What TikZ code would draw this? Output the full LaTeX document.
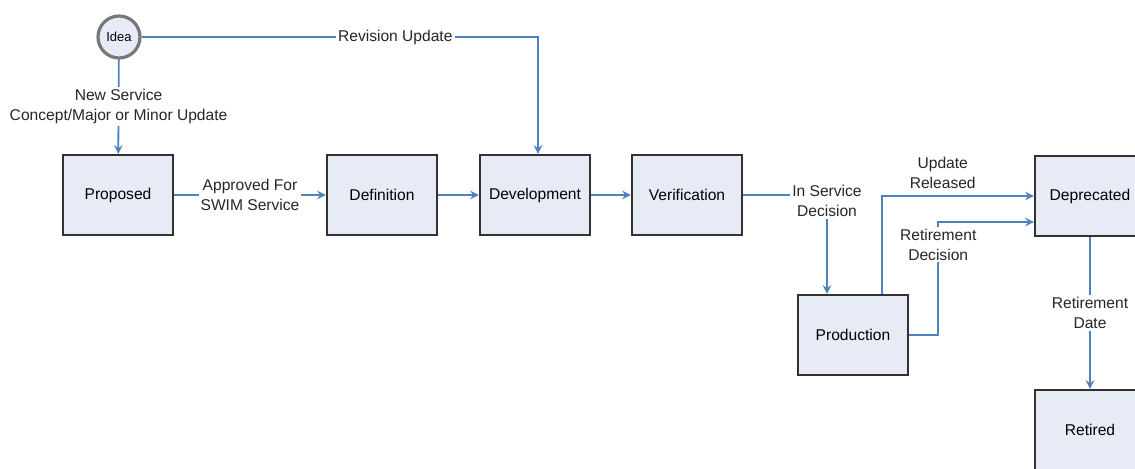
\documentclass[tikz,border=0pt]{standalone}
\usepackage{fontspec}
\setmainfont{Liberation Sans}
\usepackage{tikz}
\usetikzlibrary{arrows}
\definecolor{boxfill}{RGB}{230,235,246}
\definecolor{boxline}{RGB}{50,50,50}
\definecolor{flowblue}{RGB}{79,129,189}
\definecolor{ringgray}{RGB}{120,120,120}
\tikzset{
  stage/.style={draw=boxline,line width=1.2pt,fill=boxfill,minimum width=55pt,minimum height=40pt,inner sep=0pt},
  ideanode/.style={circle,draw=ringgray,line width=1.6pt,fill=boxfill,minimum size=21pt,inner sep=0pt,font=\fontsize{6.5}{7}\selectfont},
  flow/.style={->,>=stealth,draw=flowblue,line width=0.9pt},
  lbl/.style={fill=white,inner sep=1pt,align=center,text=black!85}
}

\begin{document}
\begin{tikzpicture}[x=0.5pt,y=-0.5pt,font=\fontsize{7.8}{10}\selectfont]
        \useasboundingbox (0,0) rectangle (1135,469);
        % states
        \node[ideanode] (idea) at (119,37) {Idea};
        \node[stage] (proposed) at (118,195) {Proposed};
        \node[stage] (definition) at (382,195) {Definition};
        \node[stage] (development) at (535,195) {Development};
        \node[stage] (verification) at (687,195) {Verification};
        \node[stage] (production) at (853,335) {Production};
        \node[stage] (deprecated) at (1090,196) {Deprecated};
        \node[stage] (retired) at (1090,430) {Retired};
        % transitions
        \draw[flow] (idea) -- node[lbl]{New Service\\Concept/Major or Minor Update} (proposed);
        \draw[flow] (idea.east) -| node[lbl,pos=0.32]{Revision Update} ([xshift=1.5pt]development.north);
        \draw[flow] (proposed) -- node[lbl]{Approved For\\SWIM Service} (definition);
        \draw[flow] (definition) -- (development);
        \draw[flow] (development) -- (verification);
        \draw[flow] (verification.east) -| node[lbl,pos=0.53]{In Service\\Decision} ([xshift=-13pt]production.north);
        \draw[flow] ([xshift=14.5pt]production.north) |- node[pos=0.7,above,align=center,text=black!85]{Update\\Released} (deprecated.west);
        \draw[flow] (production.east) -- ++(29,0) |- node[lbl,pos=0.4]{Retirement\\Decision} ([yshift=-13pt]deprecated.west);
        \draw[flow] (deprecated) -- node[lbl]{Retirement\\Date} (retired);
\end{tikzpicture}
\end{document}
